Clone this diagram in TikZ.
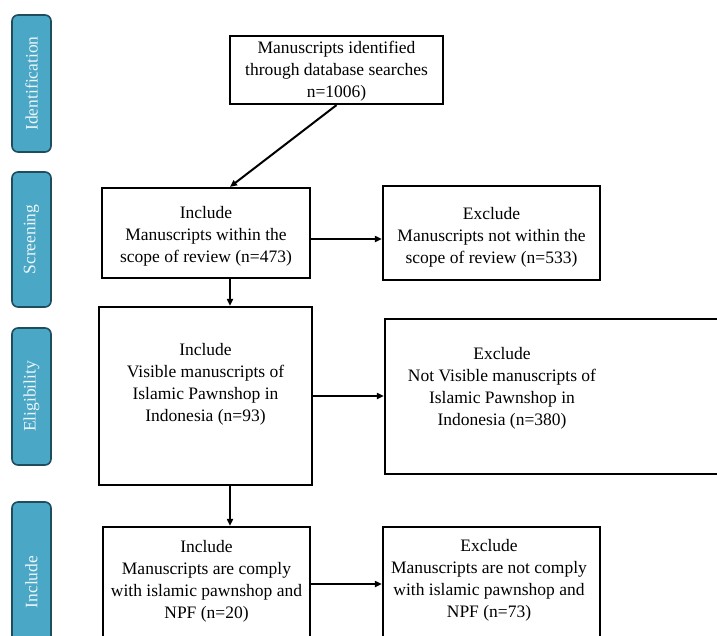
\documentclass[tikz,border=0pt]{standalone}
\usepackage{fontspec}
\setmainfont{Liberation Serif}
\usetikzlibrary{arrows.meta,calc}
\definecolor{tabblue}{HTML}{4AA7C6}
\definecolor{tabedge}{HTML}{1E4D5E}
\tikzset{
  box/.style={draw=black, line width=2.2pt, rectangle, inner sep=0pt},
  txt/.style={align=center, font=\fontsize{17.5}{22}\selectfont, inner sep=0pt},
  tab/.style={draw=tabedge, fill=tabblue, line width=1.6pt, rounded corners=6pt, rectangle, inner sep=0pt},
  tabtxt/.style={text=white!90!tabblue, rotate=90, font=\fontsize{17.5}{19}\selectfont, inner sep=0pt},
  arr/.style={line width=2pt, -{Triangle[length=7pt,width=6pt]}}
}
\begin{document}
\begin{tikzpicture}[x=1pt,y=-1pt]
\useasboundingbox (0,0) rectangle (717,635);
% side tabs
\node[tab, minimum width=39pt, minimum height=137pt] (tid) at (31.5,83.5) {};
\node[tabtxt] (tidt) at (tid.center) {Identification};
\node[tab, minimum width=39pt, minimum height=135pt] (tsc) at (31.5,239.5) {};
\node[tabtxt] (tsct) at (tsc.center) {Screening};
\node[tab, minimum width=39pt, minimum height=137pt] (tel) at (31.5,396.5) {};
\node[tabtxt] (telt) at (tel.center) {Eligibility};
\node[tab, minimum width=39pt, minimum height=150pt] (tin) at (31.5,577) {};
\node[tabtxt] (tint) at (31.5,582) {Include};
% boxes
\node[box, minimum width=213pt, minimum height=68pt] (top) at (336.5,70) {};
\node[txt] (topt) at (336.5,71) {Manuscripts identified\\through database searches\\n=1006)};
\node[box, minimum width=208pt, minimum height=90pt] (sinc) at (206,233) {};
\node[txt] (sinct) at (206,236) {Include\\Manuscripts within the\\scope of review (n=473)};
\node[box, minimum width=217pt, minimum height=94pt] (sexc) at (491.5,233) {};
\node[txt] (sexct) at (491.5,237) {Exclude\\Manuscripts not within the\\scope of review (n=533)};
\node[box, minimum width=213pt, minimum height=178pt] (einc) at (205.5,396) {};
\node[txt] (einct) at (205.5,384) {Include\\Visible manuscripts of\\Islamic Pawnshop in\\Indonesia (n=93)};
\node[box, minimum width=340pt, minimum height=155pt] (eexc) at (555,396.5) {};
\node[txt] (eexct) at (502,388) {Exclude\\Not Visible manuscripts of\\Islamic Pawnshop in\\Indonesia (n=380)};
\node[box, minimum width=207pt, minimum height=120pt] (binc) at (206.5,587) {};
\node[txt] (binct) at (206.5,581) {Include\\Manuscripts are comply\\with islamic pawnshop and\\NPF (n=20)};
\node[box, minimum width=217pt, minimum height=120pt] (bexc) at (491.5,587) {};
\node[txt] (bexct) at (489,580) {Exclude\\Manuscripts are not comply\\with islamic pawnshop and\\NPF (n=73)};
% connectors
\draw[arr] (top.south) -- ([xshift=24pt]sinc.north);
\draw[arr] ([xshift=24pt]sinc.south) -- ([xshift=24.5pt]einc.north);
\draw[arr] ([xshift=24.5pt]einc.south) -- ([xshift=23.5pt]binc.north);
\draw[arr] ($(sinc.east)+(0,6)$) -- ($(sexc.west |- sinc.east)+(0,6)$);
\draw[arr] (einc.east) -- (eexc.west |- einc.east);
\draw[arr] ($(binc.east)+(0,-3)$) -- ($(bexc.west |- binc.east)+(0,-3)$);
\end{tikzpicture}
\end{document}
